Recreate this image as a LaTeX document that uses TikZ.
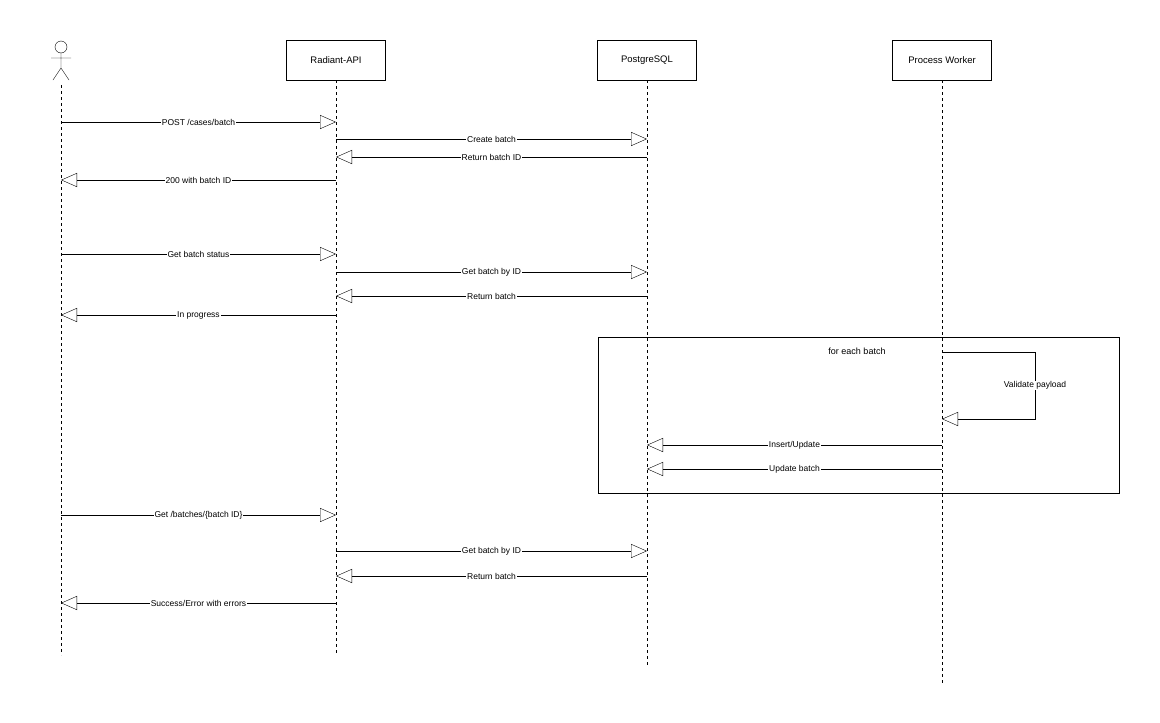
\documentclass[tikz,border=0pt]{standalone}
\usepackage{fontspec}
\setmainfont{Liberation Sans}
\usetikzlibrary{arrows.meta,positioning}

\begin{document}
\begin{tikzpicture}[x=1pt,y=-1pt,
      participant/.style={
         draw=black,
         fill=white,
         minimum width=99pt,
         minimum height=40pt,
         inner sep=0pt,
         font=\fontsize{9.5}{10}\selectfont},
      lifeline/.style={dash pattern=on 3pt off 3pt},
      msgarrow/.style={-{Triangle[open,length=16pt,width=14pt]}},
      msglabel/.style={fill=white,inner sep=1pt,font=\fontsize{8.5}{9}\selectfont}
      ]
      \useasboundingbox (0,0) rectangle (1160,723);

      \node[participant] (api) at (336,60) {Radiant-API};
      \node[participant] (db) at (647,60) {PostgreSQL};
      \node[participant] (worker) at (942,60) {Process Worker};

      % actor
      \draw (61,47) circle (6);
      \draw (61,53) -- (61,68) (51,58) -- (71,58) (53,80) -- (61,68) -- (69,80);
      \coordinate (user) at (61,85);

      \coordinate (userend) at (61,655);
      \coordinate (apiend) at (336,655);
      \coordinate (dbend) at (647,665);
      \coordinate (workerend) at (942,683);
      \draw[lifeline] (user) -- (userend);
      \draw[lifeline] (api) -- (apiend);
      \draw[lifeline] (db) -- (dbend);
      \draw[lifeline] (worker) -- (workerend);

      % frame
      \draw (598,337) rectangle (1119,493);
      \node[font=\fontsize{9}{10}\selectfont] (loop) at (857,351) {for each batch};

    \foreach \n/\a/\b/\y/\txt in {% id/from x/to x/y/text
	  1/61/336/122/{POST /cases/batch},
	  2/336/647/139/{Create batch},
	  3/647/336/157/{Return batch ID},
	  4/336/61/180/{200 with batch ID},
	  5/61/336/254/{Get batch status},
	  6/336/647/272/{Get batch by ID},
	  7/647/336/296/{Return batch},
	  8/336/61/315/{In progress},
	  9/942/647/445/{Insert/Update},
	  10/942/647/469/{Update batch},
	  11/61/336/515/{Get /batches/\{batch ID\}},
	  12/336/647/551/{Get batch by ID},
	  13/647/336/576/{Return batch},
	  14/336/61/603/{Success/Error with errors}}
       {
       \coordinate (s\n) at (\a,\y);
       \coordinate (e\n) at (\b,\y);
       \draw [msgarrow] (s\n) -- node[msglabel] {\txt} (e\n);
       }

\coordinate (self1) at (942,352);
\coordinate (self2) at (942,419);
\draw[msgarrow] (self1) -- (1035,352) -- node[msglabel] {Validate payload} (1035,419) -- (self2);

    \end{tikzpicture}
\end{document}
